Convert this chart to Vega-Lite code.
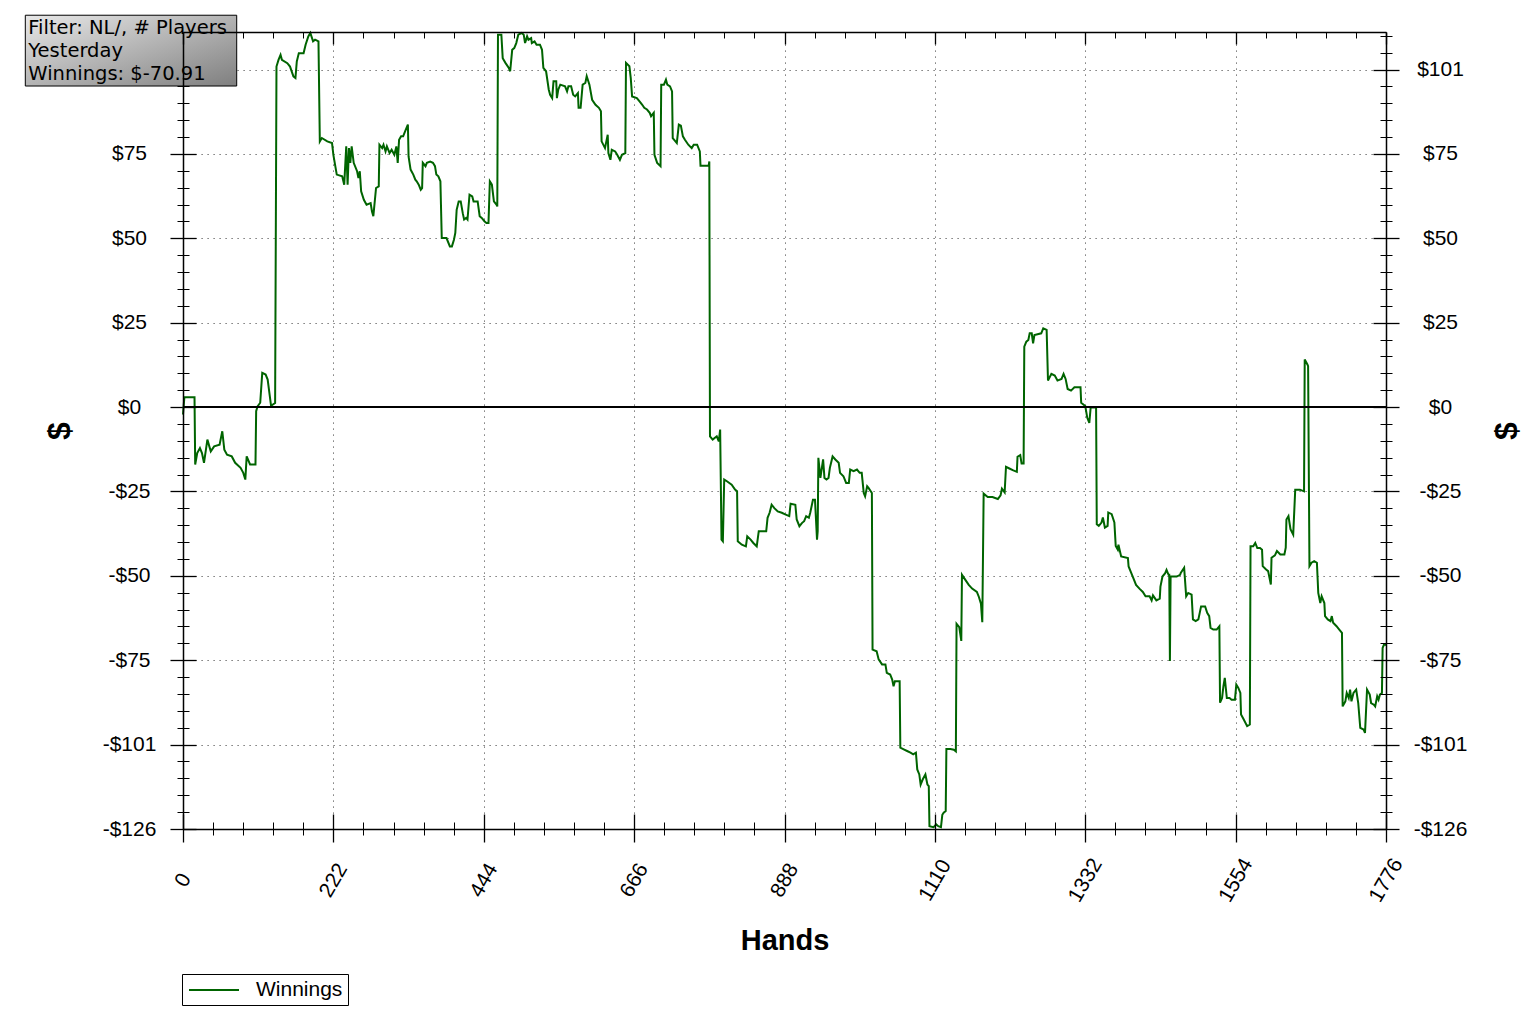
{
  "$schema": "https://vega.github.io/schema/vega-lite/v6.json",
  "width": 1203,
  "height": 797,
  "autosize": {"type": "none"},
  "padding": {"left": 183, "top": 32, "right": 151, "bottom": 194},
  "background": "white",
  "config": {
    "view": {"stroke": null},
    "axis": {
      "labelFont": "Liberation Sans",
      "titleFont": "Liberation Sans",
      "labelColor": "black",
      "titleColor": "black",
      "tickColor": "black",
      "domainColor": "black",
      "domainWidth": 1.5,
      "tickWidth": 1.3,
      "labelFlush": false,
      "labelOverlap": false,
      "grid": false
    }
  },
  "data": {
    "values": [
      {"hand": 0, "won": -2.2}, {"hand": 2, "won": 2.9}, {"hand": 17, "won": 2.9}, {"hand": 18, "won": -17.1},
      {"hand": 21, "won": -13.7}, {"hand": 25, "won": -12.2}, {"hand": 28, "won": -13.7}, {"hand": 31, "won": -16.6},
      {"hand": 36, "won": -9.7}, {"hand": 41, "won": -13.2}, {"hand": 46, "won": -11.7}, {"hand": 54, "won": -11.2},
      {"hand": 58, "won": -7.2}, {"hand": 61, "won": -12.7}, {"hand": 65, "won": -14.2}, {"hand": 72, "won": -14.7},
      {"hand": 77, "won": -16.6}, {"hand": 85, "won": -18.1}, {"hand": 89, "won": -19.6}, {"hand": 92, "won": -21.6},
      {"hand": 94, "won": -14.7}, {"hand": 99, "won": -17.1}, {"hand": 107, "won": -17.1}, {"hand": 108, "won": -1.2},
      {"hand": 110, "won": 0.2}, {"hand": 114, "won": 1.3}, {"hand": 117, "won": 10.2}, {"hand": 122, "won": 9.7},
      {"hand": 125, "won": 8.2}, {"hand": 130, "won": 0.4}, {"hand": 136, "won": 1.2}, {"hand": 138, "won": 101.5},
      {"hand": 141, "won": 103.5}, {"hand": 144, "won": 105}, {"hand": 146, "won": 103.5}, {"hand": 154, "won": 102.5},
      {"hand": 158, "won": 101.5}, {"hand": 163, "won": 98.6}, {"hand": 166, "won": 98.1}, {"hand": 168, "won": 103},
      {"hand": 171, "won": 105.5}, {"hand": 178, "won": 105.5}, {"hand": 181, "won": 108}, {"hand": 185, "won": 110.5},
      {"hand": 188, "won": 111.5}, {"hand": 192, "won": 109}, {"hand": 195, "won": 109.5}, {"hand": 200, "won": 109},
      {"hand": 202, "won": 79.2}, {"hand": 205, "won": 80.2}, {"hand": 213, "won": 79.2}, {"hand": 220, "won": 78.7},
      {"hand": 222, "won": 75.2}, {"hand": 227, "won": 69.3}, {"hand": 235, "won": 68.8}, {"hand": 238, "won": 66.3},
      {"hand": 241, "won": 77.7}, {"hand": 243, "won": 66.3}, {"hand": 245, "won": 77.2}, {"hand": 247, "won": 72.8},
      {"hand": 249, "won": 77.7}, {"hand": 252, "won": 72.8}, {"hand": 257, "won": 70.3}, {"hand": 259, "won": 68.3},
      {"hand": 261, "won": 70.3}, {"hand": 263, "won": 64.3}, {"hand": 267, "won": 61.8}, {"hand": 271, "won": 60.3},
      {"hand": 277, "won": 60.8}, {"hand": 279, "won": 58.3}, {"hand": 281, "won": 56.9}, {"hand": 285, "won": 65.3},
      {"hand": 289, "won": 65.8}, {"hand": 290, "won": 78.2}, {"hand": 294, "won": 77.2}, {"hand": 296, "won": 78.2},
      {"hand": 299, "won": 76.2}, {"hand": 301, "won": 77.7}, {"hand": 305, "won": 75.7}, {"hand": 308, "won": 76.7},
      {"hand": 312, "won": 75.2}, {"hand": 315, "won": 77.7}, {"hand": 317, "won": 72.8}, {"hand": 319, "won": 79.7},
      {"hand": 322, "won": 80.7}, {"hand": 325, "won": 80.7}, {"hand": 327, "won": 81.7}, {"hand": 330, "won": 83.2},
      {"hand": 332, "won": 84.2}, {"hand": 333, "won": 74.7}, {"hand": 336, "won": 70.8}, {"hand": 340, "won": 69.3},
      {"hand": 343, "won": 67.8}, {"hand": 345, "won": 67.3}, {"hand": 348, "won": 66.3}, {"hand": 351, "won": 64.8},
      {"hand": 353, "won": 65.3}, {"hand": 354, "won": 72.8}, {"hand": 358, "won": 71.8}, {"hand": 360, "won": 72.8},
      {"hand": 365, "won": 73.2}, {"hand": 369, "won": 72.8}, {"hand": 372, "won": 71.8}, {"hand": 374, "won": 69.3},
      {"hand": 377, "won": 68.8}, {"hand": 380, "won": 67.3}, {"hand": 382, "won": 50.4}, {"hand": 389, "won": 50.4},
      {"hand": 394, "won": 47.9}, {"hand": 397, "won": 47.9}, {"hand": 400, "won": 49.9}, {"hand": 402, "won": 51.9},
      {"hand": 404, "won": 58.8}, {"hand": 407, "won": 61.3}, {"hand": 410, "won": 61.3}, {"hand": 413, "won": 57.8},
      {"hand": 415, "won": 55.9}, {"hand": 418, "won": 56.4}, {"hand": 420, "won": 55.9}, {"hand": 423, "won": 63.3},
      {"hand": 427, "won": 62.8}, {"hand": 429, "won": 61.3}, {"hand": 435, "won": 61.3}, {"hand": 438, "won": 56.9},
      {"hand": 441, "won": 56.4}, {"hand": 445, "won": 55.4}, {"hand": 448, "won": 54.9}, {"hand": 451, "won": 54.9},
      {"hand": 453, "won": 67.3}, {"hand": 456, "won": 66.3}, {"hand": 459, "won": 61.3}, {"hand": 463, "won": 60.3},
      {"hand": 464, "won": 59.8}, {"hand": 465, "won": 111}, {"hand": 470, "won": 111}, {"hand": 472, "won": 104},
      {"hand": 476, "won": 102.6}, {"hand": 481, "won": 101.1}, {"hand": 483, "won": 100.1}, {"hand": 486, "won": 106.5},
      {"hand": 489, "won": 107}, {"hand": 492, "won": 108.5}, {"hand": 495, "won": 111}, {"hand": 500, "won": 111.5},
      {"hand": 503, "won": 111}, {"hand": 505, "won": 108.5}, {"hand": 508, "won": 110.5}, {"hand": 510, "won": 109.5},
      {"hand": 514, "won": 110}, {"hand": 515, "won": 108.5}, {"hand": 519, "won": 109}, {"hand": 522, "won": 108},
      {"hand": 527, "won": 108}, {"hand": 530, "won": 106.5}, {"hand": 532, "won": 101.1}, {"hand": 536, "won": 100.1},
      {"hand": 540, "won": 94.6}, {"hand": 542, "won": 93.1}, {"hand": 545, "won": 92.1}, {"hand": 547, "won": 97.1},
      {"hand": 551, "won": 97.1}, {"hand": 552, "won": 92.1}, {"hand": 554, "won": 94.6}, {"hand": 557, "won": 96.1},
      {"hand": 564, "won": 95.6}, {"hand": 567, "won": 94.1}, {"hand": 569, "won": 95.6}, {"hand": 573, "won": 95.6},
      {"hand": 576, "won": 93.1}, {"hand": 579, "won": 92.6}, {"hand": 583, "won": 93.6}, {"hand": 584, "won": 89.2},
      {"hand": 587, "won": 89.2}, {"hand": 590, "won": 96.1}, {"hand": 594, "won": 96.6}, {"hand": 596, "won": 98.6},
      {"hand": 600, "won": 96.1}, {"hand": 604, "won": 91.6}, {"hand": 609, "won": 90.1}, {"hand": 614, "won": 89.2},
      {"hand": 617, "won": 88.2}, {"hand": 618, "won": 79.2}, {"hand": 623, "won": 77.2}, {"hand": 627, "won": 81.2},
      {"hand": 628, "won": 75.7}, {"hand": 631, "won": 73.7}, {"hand": 633, "won": 76.7}, {"hand": 638, "won": 76.2},
      {"hand": 641, "won": 75.2}, {"hand": 645, "won": 73.7}, {"hand": 648, "won": 75.2}, {"hand": 653, "won": 75.7},
      {"hand": 654, "won": 102.6}, {"hand": 659, "won": 101.6}, {"hand": 661, "won": 98.1}, {"hand": 663, "won": 92.6},
      {"hand": 670, "won": 92.1}, {"hand": 674, "won": 91.1}, {"hand": 678, "won": 90.1}, {"hand": 681, "won": 89.2},
      {"hand": 685, "won": 88.7}, {"hand": 689, "won": 87.7}, {"hand": 691, "won": 86.7}, {"hand": 695, "won": 87.7},
      {"hand": 696, "won": 75.2}, {"hand": 700, "won": 72.8}, {"hand": 705, "won": 71.8}, {"hand": 706, "won": 96.1},
      {"hand": 710, "won": 96.1}, {"hand": 713, "won": 97.6}, {"hand": 715, "won": 96.1}, {"hand": 719, "won": 95.6},
      {"hand": 722, "won": 94.1}, {"hand": 723, "won": 80.2}, {"hand": 727, "won": 79.2}, {"hand": 729, "won": 78.7},
      {"hand": 732, "won": 84.2}, {"hand": 735, "won": 83.9}, {"hand": 738, "won": 80.7}, {"hand": 741, "won": 79.7},
      {"hand": 746, "won": 78.2}, {"hand": 751, "won": 77.2}, {"hand": 754, "won": 78.2}, {"hand": 759, "won": 78.2},
      {"hand": 763, "won": 76.2}, {"hand": 764, "won": 71.9}, {"hand": 776, "won": 71.9}, {"hand": 777, "won": 73.2},
      {"hand": 778, "won": -8.7}, {"hand": 782, "won": -9.7}, {"hand": 788, "won": -8.7}, {"hand": 791, "won": -10.2},
      {"hand": 793, "won": -6.7}, {"hand": 795, "won": -39.5}, {"hand": 797, "won": -40}, {"hand": 799, "won": -21.6},
      {"hand": 803, "won": -22.1}, {"hand": 810, "won": -23.1}, {"hand": 815, "won": -24.6}, {"hand": 818, "won": -25.1},
      {"hand": 819, "won": -40}, {"hand": 825, "won": -41}, {"hand": 831, "won": -41.5}, {"hand": 833, "won": -38.5},
      {"hand": 838, "won": -39.5}, {"hand": 842, "won": -40.5}, {"hand": 847, "won": -41.5}, {"hand": 850, "won": -37},
      {"hand": 855, "won": -37}, {"hand": 861, "won": -37}, {"hand": 863, "won": -33}, {"hand": 866, "won": -31.5},
      {"hand": 869, "won": -29.1}, {"hand": 873, "won": -30.1}, {"hand": 878, "won": -31.1}, {"hand": 884, "won": -31.5},
      {"hand": 889, "won": -32}, {"hand": 895, "won": -32.5}, {"hand": 897, "won": -28.8}, {"hand": 904, "won": -29.1},
      {"hand": 906, "won": -33.5}, {"hand": 910, "won": -35.5}, {"hand": 914, "won": -34.5}, {"hand": 917, "won": -34},
      {"hand": 920, "won": -32.5}, {"hand": 924, "won": -33}, {"hand": 926, "won": -31.5}, {"hand": 930, "won": -27.6},
      {"hand": 933, "won": -27.6}, {"hand": 936, "won": -39.5}, {"hand": 937, "won": -37}, {"hand": 938, "won": -15.1},
      {"hand": 941, "won": -21.1}, {"hand": 945, "won": -15.6}, {"hand": 947, "won": -21.1}, {"hand": 950, "won": -21.6},
      {"hand": 953, "won": -21.1}, {"hand": 955, "won": -18.1}, {"hand": 959, "won": -14.7}, {"hand": 963, "won": -15.6},
      {"hand": 968, "won": -16.6}, {"hand": 970, "won": -19.6}, {"hand": 975, "won": -20.6}, {"hand": 979, "won": -22.6},
      {"hand": 983, "won": -22.6}, {"hand": 985, "won": -18.6}, {"hand": 990, "won": -19.1}, {"hand": 995, "won": -18.6},
      {"hand": 999, "won": -19.6}, {"hand": 1002, "won": -19.6}, {"hand": 1005, "won": -25.6}, {"hand": 1007, "won": -26.6},
      {"hand": 1010, "won": -23.6}, {"hand": 1012, "won": -24.1}, {"hand": 1017, "won": -25.6}, {"hand": 1018, "won": -72.3},
      {"hand": 1024, "won": -72.8}, {"hand": 1027, "won": -75.2}, {"hand": 1032, "won": -76.7}, {"hand": 1037, "won": -76.7},
      {"hand": 1039, "won": -79.2}, {"hand": 1044, "won": -79.7}, {"hand": 1047, "won": -81.2}, {"hand": 1049, "won": -83.2},
      {"hand": 1051, "won": -81.7}, {"hand": 1058, "won": -81.7}, {"hand": 1059, "won": -101.5}, {"hand": 1064, "won": -102},
      {"hand": 1069, "won": -102.5}, {"hand": 1074, "won": -103}, {"hand": 1078, "won": -103.5}, {"hand": 1082, "won": -103},
      {"hand": 1084, "won": -108}, {"hand": 1087, "won": -109.5}, {"hand": 1089, "won": -112.5}, {"hand": 1092, "won": -111},
      {"hand": 1096, "won": -109.5}, {"hand": 1099, "won": -112.5}, {"hand": 1101, "won": -113}, {"hand": 1102, "won": -124.9},
      {"hand": 1108, "won": -125.2}, {"hand": 1112, "won": -124.4}, {"hand": 1115, "won": -124.9}, {"hand": 1119, "won": -125.2},
      {"hand": 1121, "won": -121.5}, {"hand": 1123, "won": -120.9}, {"hand": 1126, "won": -120.4}, {"hand": 1127, "won": -101.9},
      {"hand": 1133, "won": -101.9}, {"hand": 1138, "won": -102.1}, {"hand": 1141, "won": -102.6}, {"hand": 1142, "won": -64.6},
      {"hand": 1146, "won": -65.6}, {"hand": 1149, "won": -69.7}, {"hand": 1150, "won": -50}, {"hand": 1155, "won": -51.5},
      {"hand": 1160, "won": -53}, {"hand": 1165, "won": -54.1}, {"hand": 1172, "won": -55.1}, {"hand": 1175, "won": -56.6},
      {"hand": 1178, "won": -58.6}, {"hand": 1180, "won": -64.1}, {"hand": 1182, "won": -25.8}, {"hand": 1188, "won": -26.8},
      {"hand": 1195, "won": -26.8}, {"hand": 1203, "won": -27.4}, {"hand": 1207, "won": -26.3}, {"hand": 1209, "won": -24.3},
      {"hand": 1213, "won": -25.4}, {"hand": 1215, "won": -17.8}, {"hand": 1220, "won": -18.3}, {"hand": 1225, "won": -18.8},
      {"hand": 1231, "won": -19.3}, {"hand": 1232, "won": -14.8}, {"hand": 1236, "won": -14.3}, {"hand": 1238, "won": -16.8},
      {"hand": 1241, "won": -16.8}, {"hand": 1242, "won": 18}, {"hand": 1245, "won": 19.5}, {"hand": 1248, "won": 20},
      {"hand": 1250, "won": 22}, {"hand": 1253, "won": 22}, {"hand": 1255, "won": 19}, {"hand": 1257, "won": 21.5},
      {"hand": 1267, "won": 22}, {"hand": 1270, "won": 23.5}, {"hand": 1275, "won": 23}, {"hand": 1277, "won": 7.9},
      {"hand": 1282, "won": 9.9}, {"hand": 1287, "won": 9.4}, {"hand": 1291, "won": 7.9}, {"hand": 1297, "won": 8.4},
      {"hand": 1300, "won": 9.9}, {"hand": 1303, "won": 8.4}, {"hand": 1306, "won": 5.4}, {"hand": 1311, "won": 4.9},
      {"hand": 1316, "won": 5.9}, {"hand": 1325, "won": 5.9}, {"hand": 1326, "won": 1.3}, {"hand": 1332, "won": 0.3},
      {"hand": 1335, "won": -3.2}, {"hand": 1338, "won": -4.7}, {"hand": 1340, "won": -0.1}, {"hand": 1348, "won": -0.1},
      {"hand": 1349, "won": -34.9}, {"hand": 1352, "won": -35.4}, {"hand": 1356, "won": -34.4}, {"hand": 1358, "won": -32.9},
      {"hand": 1361, "won": -35.9}, {"hand": 1365, "won": -35.4}, {"hand": 1366, "won": -31.4}, {"hand": 1371, "won": -31.9},
      {"hand": 1375, "won": -34.4}, {"hand": 1377, "won": -41.4}, {"hand": 1380, "won": -42.5}, {"hand": 1381, "won": -41},
      {"hand": 1385, "won": -44.5}, {"hand": 1395, "won": -45}, {"hand": 1396, "won": -47.5}, {"hand": 1400, "won": -49.5},
      {"hand": 1403, "won": -51}, {"hand": 1407, "won": -53}, {"hand": 1412, "won": -54.1}, {"hand": 1417, "won": -55.1},
      {"hand": 1421, "won": -56.4}, {"hand": 1427, "won": -56.4}, {"hand": 1430, "won": -57.6}, {"hand": 1432, "won": -56.1},
      {"hand": 1437, "won": -57.6}, {"hand": 1442, "won": -57.1}, {"hand": 1443, "won": -53.5}, {"hand": 1446, "won": -50.5},
      {"hand": 1450, "won": -49.5}, {"hand": 1452, "won": -48.5}, {"hand": 1455, "won": -50}, {"hand": 1456, "won": -50},
      {"hand": 1457, "won": -75.7}, {"hand": 1458, "won": -50.5}, {"hand": 1467, "won": -50.5}, {"hand": 1472, "won": -50},
      {"hand": 1473, "won": -49.4}, {"hand": 1478, "won": -47.9}, {"hand": 1481, "won": -56.4}, {"hand": 1484, "won": -55.4},
      {"hand": 1489, "won": -55.9}, {"hand": 1491, "won": -63.3}, {"hand": 1495, "won": -63.8}, {"hand": 1499, "won": -63.3},
      {"hand": 1503, "won": -59.4}, {"hand": 1509, "won": -59.4}, {"hand": 1512, "won": -61.3}, {"hand": 1515, "won": -62.3},
      {"hand": 1517, "won": -65.8}, {"hand": 1521, "won": -66.3}, {"hand": 1526, "won": -66.3}, {"hand": 1530, "won": -65.3},
      {"hand": 1531, "won": -88.1}, {"hand": 1534, "won": -86.7}, {"hand": 1536, "won": -83.2}, {"hand": 1538, "won": -80.7},
      {"hand": 1541, "won": -86.7}, {"hand": 1545, "won": -86.7}, {"hand": 1548, "won": -87.2}, {"hand": 1553, "won": -87.2},
      {"hand": 1555, "won": -82.7}, {"hand": 1558, "won": -83.7}, {"hand": 1561, "won": -85.2}, {"hand": 1562, "won": -91.6},
      {"hand": 1566, "won": -93.1}, {"hand": 1571, "won": -95.1}, {"hand": 1575, "won": -94.6}, {"hand": 1576, "won": -41.5},
      {"hand": 1580, "won": -41.5}, {"hand": 1583, "won": -40.5}, {"hand": 1586, "won": -42}, {"hand": 1590, "won": -42},
      {"hand": 1593, "won": -42.5}, {"hand": 1594, "won": -47.4}, {"hand": 1599, "won": -48.4}, {"hand": 1602, "won": -48.9},
      {"hand": 1606, "won": -52.9}, {"hand": 1607, "won": -44.9}, {"hand": 1612, "won": -44.2}, {"hand": 1615, "won": -42.9},
      {"hand": 1620, "won": -43.9}, {"hand": 1626, "won": -43.9}, {"hand": 1628, "won": -41.9}, {"hand": 1629, "won": -33.5},
      {"hand": 1632, "won": -32.5}, {"hand": 1635, "won": -36.4}, {"hand": 1639, "won": -38}, {"hand": 1642, "won": -24.6},
      {"hand": 1649, "won": -24.6}, {"hand": 1655, "won": -25.1}, {"hand": 1656, "won": 14.2}, {"hand": 1660, "won": 12.7},
      {"hand": 1661, "won": 12.2}, {"hand": 1663, "won": -47.4}, {"hand": 1666, "won": -46.4}, {"hand": 1670, "won": -45.9},
      {"hand": 1674, "won": -46.4}, {"hand": 1676, "won": -55.4}, {"hand": 1679, "won": -58.4}, {"hand": 1681, "won": -56.4},
      {"hand": 1685, "won": -58.4}, {"hand": 1686, "won": -62.3}, {"hand": 1690, "won": -63.3}, {"hand": 1694, "won": -63.8},
      {"hand": 1696, "won": -62.3}, {"hand": 1698, "won": -64.3}, {"hand": 1703, "won": -65.3}, {"hand": 1707, "won": -66.3},
      {"hand": 1711, "won": -67.3}, {"hand": 1712, "won": -89.2}, {"hand": 1716, "won": -87.7}, {"hand": 1718, "won": -85.2},
      {"hand": 1721, "won": -86.7}, {"hand": 1723, "won": -84.2}, {"hand": 1725, "won": -87.7}, {"hand": 1728, "won": -85.2},
      {"hand": 1732, "won": -84.2}, {"hand": 1735, "won": -88.2}, {"hand": 1738, "won": -95.6}, {"hand": 1743, "won": -96.1},
      {"hand": 1745, "won": -97.1}, {"hand": 1748, "won": -84.2}, {"hand": 1752, "won": -85.7}, {"hand": 1754, "won": -88.2},
      {"hand": 1758, "won": -88.7}, {"hand": 1760, "won": -89.2}, {"hand": 1763, "won": -86.2}, {"hand": 1765, "won": -87.2},
      {"hand": 1767, "won": -85.7}, {"hand": 1770, "won": -85.2}, {"hand": 1771, "won": -71.8}, {"hand": 1773, "won": -70.8},
      {"hand": 1776, "won": -70.91}
    ]
  },
  "resolve": {"axis": {"x": "independent", "y": "independent"}},
  "layer": [
    {
      "mark": {"type": "line", "strokeWidth": 2, "interpolate": "linear"},
      "encoding": {
        "x": {
          "field": "hand", "type": "quantitative",
          "scale": {"domain": [0, 1776], "nice": false, "zero": false},
          "axis": {"orient": "bottom", "values": [0, 222, 444, 666, 888, 1110, 1332, 1554, 1776], "grid": true, "gridColor": "#555555", "gridDash": [1.2, 4.8], "gridWidth": 1, "domain": false, "ticks": false, "labels": false, "title": null}
        },
        "y": {
          "field": "won", "type": "quantitative",
          "scale": {"domain": [-125.75, 111.8], "nice": false, "zero": false},
          "axis": {"orient": "left", "values": [-100.6, -75.45, -50.3, -25.15, 25.15, 50.3, 75.45, 100.6], "grid": true, "gridColor": "#555555", "gridDash": [1.2, 4.8], "gridWidth": 1, "domain": false, "ticks": false, "labels": false, "title": null}
        },
        "color": {
          "datum": "Winnings", "type": "nominal",
          "scale": {"range": ["#006400"]},
          "legend": {"orient": "none", "legendX": -1, "legendY": 942, "title": null, "symbolType": "M-2.5,0H2.5", "symbolSize": 400, "symbolStrokeWidth": 2, "symbolOffset": 16, "labelFont": "Liberation Sans", "labelFontSize": 21, "labelColor": "black", "labelOffset": 31, "padding": 5, "strokeColor": "black", "fillColor": "white", "cornerRadius": 0}
        }
      }
    },
    {
      "mark": {"type": "rule", "color": "black", "strokeWidth": 1.5},
      "encoding": {"y": {"datum": 0, "type": "quantitative", "axis": null}}
    },
    {
      "mark": {"type": "line", "opacity": 0},
      "encoding": {
        "x": {"field": "hand", "type": "quantitative", "axis": {"orient": "bottom", "offset": 0, "domain": true, "ticks": false, "labels": false, "title": "Hands", "titleFontSize": 29, "titleFontWeight": "bold", "titleX": 601.5, "titleY": 111, "titleAlign": "center", "titleBaseline": "middle", "zindex": 1}},
        "y": {"field": "won", "type": "quantitative", "axis": {"orient": "left", "offset": 0, "domain": true, "ticks": false, "labels": false, "title": "$", "titleFontSize": 32, "titleFontWeight": "bold", "titleAngle": 270, "titleX": -124, "titleY": 398.5, "titleAlign": "center", "titleBaseline": "middle", "zindex": 1}}
      }
    },
    {
      "mark": {"type": "line", "opacity": 0},
      "encoding": {
        "x": {"field": "hand", "type": "quantitative", "axis": {"orient": "bottom", "offset": -15, "tickSize": 28, "values": [0, 222, 444, 666, 888, 1110, 1332, 1554, 1776], "format": "d", "domain": false, "labels": true, "labelAngle": -60, "labelAlign": "center", "labelBaseline": "middle", "labelPadding": 38, "labelFontSize": 21, "title": null, "zindex": 1}},
        "y": {"field": "won", "type": "quantitative", "axis": {"orient": "left", "offset": -13, "tickSize": 26, "values": [-125.75, -100.6, -75.45, -50.3, -25.15, 0, 25.15, 50.3, 75.45, 100.6], "domain": false, "labels": true, "labelAlign": "center", "labelBaseline": "middle", "labelPadding": 41, "labelFontSize": 21, "labelExpr": "datum.value > 100 ? '' : datum.value < 0 ? '-$' + format(-datum.value, '.0f') : '$' + format(datum.value, '.0f')", "title": null, "zindex": 0}}
      }
    },
    {
      "mark": {"type": "line", "opacity": 0},
      "encoding": {
        "x": {"field": "hand", "type": "quantitative", "axis": {"orient": "bottom", "offset": -7, "tickSize": 13, "tickWidth": 1, "values": [44.4, 88.8, 133.2, 177.6, 266.4, 310.8, 355.2, 399.6, 488.4, 532.8, 577.2, 621.6, 710.4, 754.8, 799.2, 843.6, 932.4, 976.8, 1021.2, 1065.6, 1154.4, 1198.8, 1243.2, 1287.6, 1376.4, 1420.8, 1465.2, 1509.6, 1598.4, 1642.8, 1687.2, 1731.6], "domain": false, "labels": false, "title": null, "zindex": 1}},
        "y": {"field": "won", "type": "quantitative", "axis": {"orient": "left", "offset": -6, "tickSize": 12, "tickWidth": 1, "values": [-120.72, -115.69, -110.66, -105.63, -95.57, -90.54, -85.51, -80.48, -70.42, -65.39, -60.36, -55.33, -45.27, -40.24, -35.21, -30.18, -20.12, -15.09, -10.06, -5.03, 5.03, 10.06, 15.09, 20.12, 30.18, 35.21, 40.24, 45.27, 55.33, 60.36, 65.39, 70.42, 80.48, 85.51, 90.54, 95.57, 105.63, 110.66], "domain": false, "labels": false, "title": null, "zindex": 0}}
      }
    },
    {
      "mark": {"type": "line", "opacity": 0},
      "encoding": {
        "x": {"field": "hand", "type": "quantitative", "axis": {"orient": "top", "offset": 0, "domain": true, "ticks": false, "labels": false, "title": null, "zindex": 1}},
        "y": {"field": "won", "type": "quantitative", "axis": {"orient": "right", "offset": 0, "domain": true, "ticks": false, "labels": false, "title": "$", "titleFontSize": 32, "titleFontWeight": "bold", "titleAngle": 270, "titleX": 120, "titleY": 398.5, "titleAlign": "center", "titleBaseline": "middle", "zindex": 1}}
      }
    },
    {
      "mark": {"type": "line", "opacity": 0},
      "encoding": {
        "x": {"field": "hand", "type": "quantitative", "axis": {"orient": "top", "offset": -12, "tickSize": 12, "values": [0, 222, 444, 666, 888, 1110, 1332, 1554, 1776], "domain": false, "labels": false, "title": null, "zindex": 1}},
        "y": {"field": "won", "type": "quantitative", "axis": {"orient": "right", "offset": -13, "tickSize": 26, "values": [-125.75, -100.6, -75.45, -50.3, -25.15, 0, 25.15, 50.3, 75.45, 100.6], "domain": false, "labels": true, "labelAlign": "center", "labelBaseline": "middle", "labelPadding": 41, "labelFontSize": 21, "labelExpr": "datum.value < 0 ? '-$' + format(-datum.value, '.0f') : '$' + format(datum.value, '.0f')", "title": null, "zindex": 1}}
      }
    },
    {
      "mark": {"type": "line", "opacity": 0},
      "encoding": {
        "x": {"field": "hand", "type": "quantitative", "axis": {"orient": "top", "offset": -6, "tickSize": 6, "tickWidth": 1, "values": [44.4, 88.8, 133.2, 177.6, 266.4, 310.8, 355.2, 399.6, 488.4, 532.8, 577.2, 621.6, 710.4, 754.8, 799.2, 843.6, 932.4, 976.8, 1021.2, 1065.6, 1154.4, 1198.8, 1243.2, 1287.6, 1376.4, 1420.8, 1465.2, 1509.6, 1598.4, 1642.8, 1687.2, 1731.6], "domain": false, "labels": false, "title": null, "zindex": 0}},
        "y": {"field": "won", "type": "quantitative", "axis": {"orient": "right", "offset": -6, "tickSize": 12, "tickWidth": 1, "values": [-120.72, -115.69, -110.66, -105.63, -95.57, -90.54, -85.51, -80.48, -70.42, -65.39, -60.36, -55.33, -45.27, -40.24, -35.21, -30.18, -20.12, -15.09, -10.06, -5.03, 5.03, 10.06, 15.09, 20.12, 30.18, 35.21, 40.24, 45.27, 55.33, 60.36, 65.39, 70.42, 80.48, 85.51, 90.54, 95.57, 105.63, 110.66], "domain": false, "labels": false, "title": null, "zindex": 1}}
      }
    },
    {
      "data": {"values": [{"box": "info"}]},
      "mark": {"type": "rect", "stroke": "black", "strokeWidth": 1, "fill": {"gradient": "linear", "x1": 0, "y1": 0, "x2": 1, "y2": 1, "stops": [{"offset": 0, "color": "#e8e8e8"}, {"offset": 1, "color": "#7f7f7f"}]}},
      "encoding": {
        "x": {"datum": -232.8, "type": "quantitative", "axis": null},
        "x2": {"datum": 79.3},
        "y": {"datum": 116.8, "type": "quantitative", "axis": null},
        "y2": {"datum": 95.7}
      }
    },
    {
      "data": {"values": [{"box": "info"}]},
      "mark": {"type": "text", "text": ["Filter: NL/, # Players", "Yesterday", "Winnings: $-70.91"], "align": "left", "baseline": "alphabetic", "font": "DejaVu Sans", "fontSize": 19.5, "lineHeight": 22.8, "color": "black"},
      "encoding": {
        "x": {"datum": -228.4, "type": "quantitative", "axis": null},
        "y": {"datum": 111.1, "type": "quantitative", "axis": null}
      }
    }
  ]
}
